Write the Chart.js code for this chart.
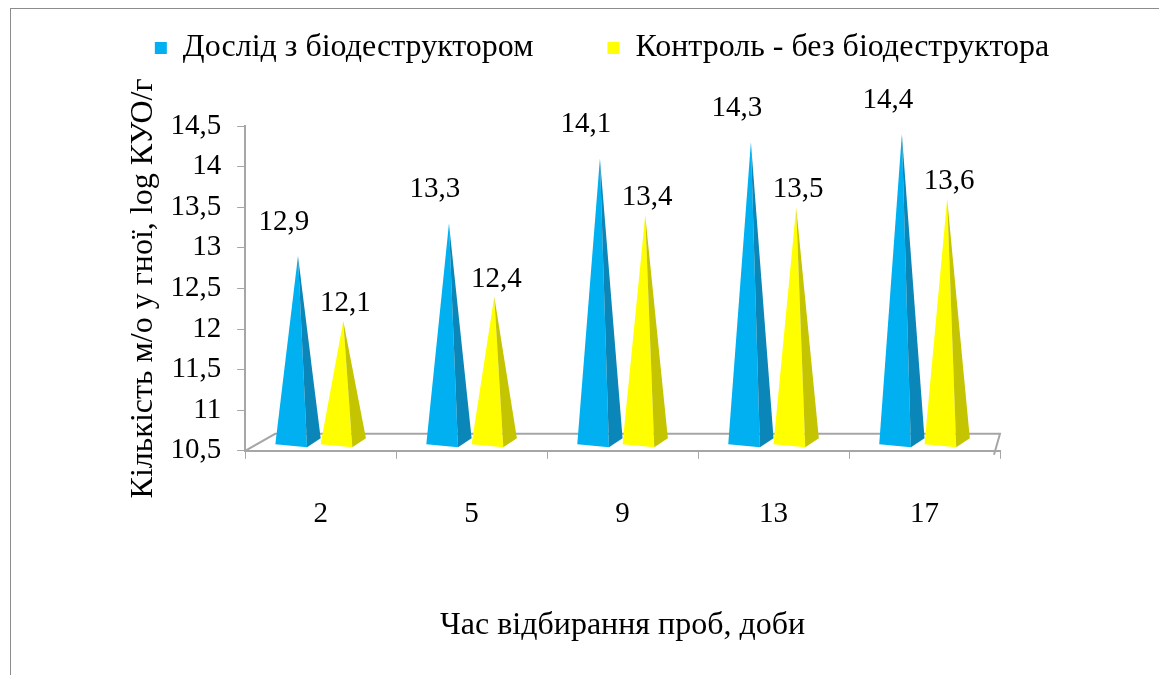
<!DOCTYPE html>
<html>
<head>
<meta charset="utf-8">
<script src="https://cdn.jsdelivr.net/npm/chart.js@4.4.1/dist/chart.umd.min.js"></script>
<style>
  html, body { margin: 0; padding: 0; background: #fff; }
  body { width: 1159px; height: 675px; overflow: hidden; position: relative; }
  #frame { position: absolute; left: 10px; top: 8px; width: 1170px; height: 700px; border: 1.5px solid #8c8c8c; box-sizing: border-box; }
  #chart { position: absolute; left: 0; top: 0; }
</style>
</head>
<body>
<div id="frame"></div>
<canvas id="chart" width="1159" height="675"></canvas>
<script>
// ── Data ─────────────────────────────────────────────────────────────────────
const DAYS       = ['2', '5', '9', '13', '17'];
const WITH_BIO   = [12.9, 13.3, 14.1, 14.3, 14.4];   // Дослід з біодеструктором
const CONTROL    = [12.1, 12.4, 13.4, 13.5, 13.6];   // Контроль - без біодеструктора
const Y_MIN = 10.5, Y_MAX = 14.5, Y_STEP = 0.5;

const FONT = "'Liberation Serif', 'Times New Roman', serif";
const fmt  = v => String(v).replace('.', ',');

// front / side face colours for the pyramids
const FACES = [
  { front: '#00b0f0', side: '#0a86b8' },
  { front: '#ffff00', side: '#c4c400' },
];

// ── Pyramid + floor drawing ──────────────────────────────────────────────────
const pyramidPlugin = {
  id: 'pyramids',
  beforeInit(chart) {
    // extra room under the legend, like the original
    const fit = chart.legend.fit;
    chart.legend.fit = function () { fit.call(this); this.height += 52; };
  },
  afterLayout(chart) {
    // legend sits right of the plot centre in the original
    chart.legend.left += 72;
    chart.legend.right += 72;
  },
  beforeDatasetsDraw(chart) {
    const { ctx, chartArea: a } = chart;
    const depth = 17, skew = 30;
    ctx.save();
    ctx.strokeStyle = '#a6a6a6';
    ctx.lineWidth = 2;
    ctx.beginPath();
    // floor: front edge is the x axis, back edge behind it
    ctx.moveTo(a.left, a.bottom);
    ctx.lineTo(a.left + skew, a.bottom - depth);
    ctx.lineTo(a.right, a.bottom - depth);
    ctx.lineTo(a.right - 6, a.bottom + 4);
    ctx.stroke();
    ctx.restore();
  },
  afterDatasetsDraw(chart) {
    const { ctx } = chart;
    ctx.save();
    chart.data.datasets.forEach((ds, di) => {
      const meta = chart.getDatasetMeta(di);
      const c = FACES[di];
      meta.data.forEach((el, i) => {
        const { x, y, base, width } = el.getProps(['x', 'y', 'base', 'width'], true);
        const b = base - 6;
        const left = x - width / 2, right = x + width / 2;
        const mid = x + width * 0.2;
        // front face
        ctx.fillStyle = c.front;
        ctx.beginPath();
        ctx.moveTo(left, b);
        ctx.lineTo(mid, b + 3);
        ctx.lineTo(x, y);
        ctx.closePath();
        ctx.fill();
        // side face
        ctx.fillStyle = c.side;
        ctx.beginPath();
        ctx.moveTo(mid, b + 3);
        ctx.lineTo(right, b - 6);
        ctx.lineTo(x, y);
        ctx.closePath();
        ctx.fill();
        // value label
        ctx.fillStyle = '#000';
        ctx.font = `29px ${FONT}`;
        ctx.textAlign = 'center';
        ctx.textBaseline = 'alphabetic';
        if (di === 0) ctx.fillText(fmt(ds.data[i]), x - 14, y - 26);
        else          ctx.fillText(fmt(ds.data[i]), x + 2, y - 10);
      });
    });
    ctx.restore();
  },
};

// ── Chart ────────────────────────────────────────────────────────────────────
new Chart(document.getElementById('chart').getContext('2d'), {
  type: 'bar',
  data: {
    labels: DAYS,
    datasets: [
      { label: 'Дослід з біодеструктором',      data: WITH_BIO, base: Y_MIN, backgroundColor: 'rgba(0,0,0,0)', borderWidth: 0 },
      { label: 'Контроль - без біодеструктора', data: CONTROL,  base: Y_MIN, backgroundColor: 'rgba(0,0,0,0)', borderWidth: 0 },
    ],
  },
  options: {
    responsive: false,
    animation: false,
    devicePixelRatio: 1,
    categoryPercentage: 0.6,
    barPercentage: 1.0,
    layout: { padding: { top: 22, left: 60, right: 159, bottom: 30 } },
    plugins: {
      legend: {
        position: 'top',
        labels: {
          color: '#000',
          font: { family: FONT, size: 32 },
          boxWidth: 12, boxHeight: 12,
          padding: 10,
          generateLabels: chart => chart.data.datasets.map((ds, i) => ({
            text: i === 0 ? ds.label + '        ' : ds.label,
            fillStyle: FACES[i].front, strokeStyle: FACES[i].front,
            lineWidth: 0, datasetIndex: i,
          })),
        },
      },
      tooltip: { enabled: false },
    },
    scales: {
      x: {
        grid: { drawOnChartArea: false, drawTicks: true, tickLength: 8, color: '#a6a6a6', offset: true },
        border: { color: '#a6a6a6', width: 2 },
        ticks: { color: '#000', font: { family: FONT, size: 29 }, padding: 38 },
        title: { display: true, text: 'Час відбирання проб, доби', color: '#000', font: { family: FONT, size: 32 }, padding: { top: 37, bottom: 0 } },
      },
      y: {
        min: Y_MIN, max: Y_MAX,
        grid: { drawOnChartArea: false, drawTicks: true, tickLength: 8, color: '#a6a6a6' },
        border: { color: '#a6a6a6', width: 2 },
        ticks: { stepSize: Y_STEP, autoSkip: false, color: '#000', font: { family: FONT, size: 29 }, padding: 16, callback: v => fmt(v) },
        title: { display: true, text: 'Кількість м/о у гної, log КУО/г', color: '#000', font: { family: FONT, size: 32 }, padding: { top: 64, bottom: -8 } },
      },
    },
  },
  plugins: [pyramidPlugin],
});
</script>
</body>
</html>
